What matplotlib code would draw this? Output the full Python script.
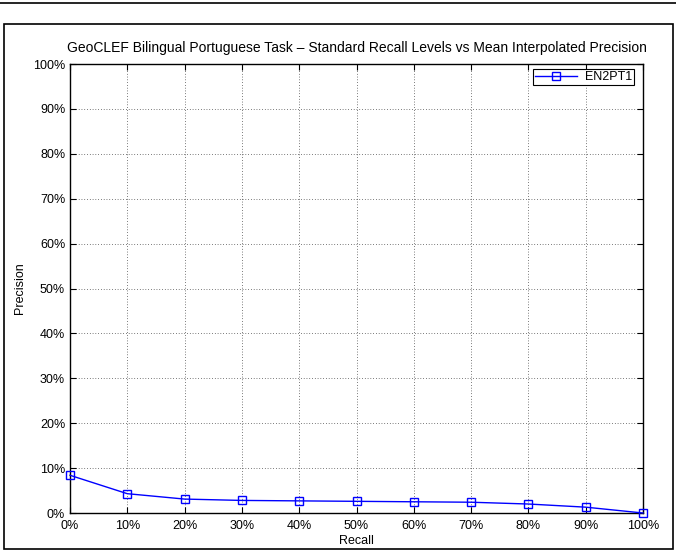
import numpy as np
import matplotlib
matplotlib.use('Agg')
import matplotlib.pyplot as plt
from matplotlib.lines import Line2D
from matplotlib.patches import Rectangle

recall = [0, 10, 20, 30, 40, 50, 60, 70, 80, 90, 100]
precision = [8.4, 4.3, 3.1, 2.8, 2.7, 2.6, 2.5, 2.4, 2.0, 1.3, 0.0]
tick_labels = ['%d%%' % v for v in range(0, 101, 10)]

plt.rcParams['font.family'] = ['Liberation Sans', 'DejaVu Sans']
plt.rcParams['font.size'] = 9

fig = plt.figure(figsize=(6.76, 5.52), dpi=100)

# outer frames
fig.add_artist(Line2D([0, 1], [1 - 2.5 / 552, 1 - 2.5 / 552], transform=fig.transFigure, color='k', lw=1.2))
fig.add_artist(Rectangle((4 / 676, 3 / 552), 669 / 676, 525 / 552, transform=fig.transFigure,
                         fill=False, edgecolor='k', lw=1.2))

ax = fig.add_axes([70 / 676, 39 / 552, 573 / 676, 449 / 552])
ax.plot(recall, precision, color='b', marker='s', markersize=6, markerfacecolor='none',
        markeredgecolor='b', lw=1, label='EN2PT1', clip_on=False, zorder=5)

ax.set_xlim(0, 100)
ax.set_ylim(0, 100)
ax.set_xticks(range(0, 101, 10))
ax.set_yticks(range(0, 101, 10))
ax.set_xticklabels(tick_labels)
ax.set_yticklabels(tick_labels)
ax.tick_params(direction='in', top=True, right=True, length=4, width=0.8, pad=3.5)
ax.tick_params(axis='x', pad=5)
ax.grid(True, color='k', linestyle=(0, (1, 3)), lw=0.5)
for s in ax.spines.values():
    s.set_linewidth(1.0)

ax.set_xlabel('Recall', labelpad=2)
ax.set_ylabel('Precision', labelpad=5)
ax.set_title('GeoCLEF Bilingual Portuguese Task \u2013 Standard Recall Levels vs Mean Interpolated Precision',
             fontsize=10, pad=9)

leg = ax.legend(loc='upper right', fancybox=False, edgecolor='k', framealpha=1,
                handlelength=3.4, borderaxespad=0.4, borderpad=0.15, handletextpad=0.6,
                bbox_to_anchor=(0.993, 1.0))
leg.get_frame().set_linewidth(0.8)

fig.savefig('out.png', dpi=100)
